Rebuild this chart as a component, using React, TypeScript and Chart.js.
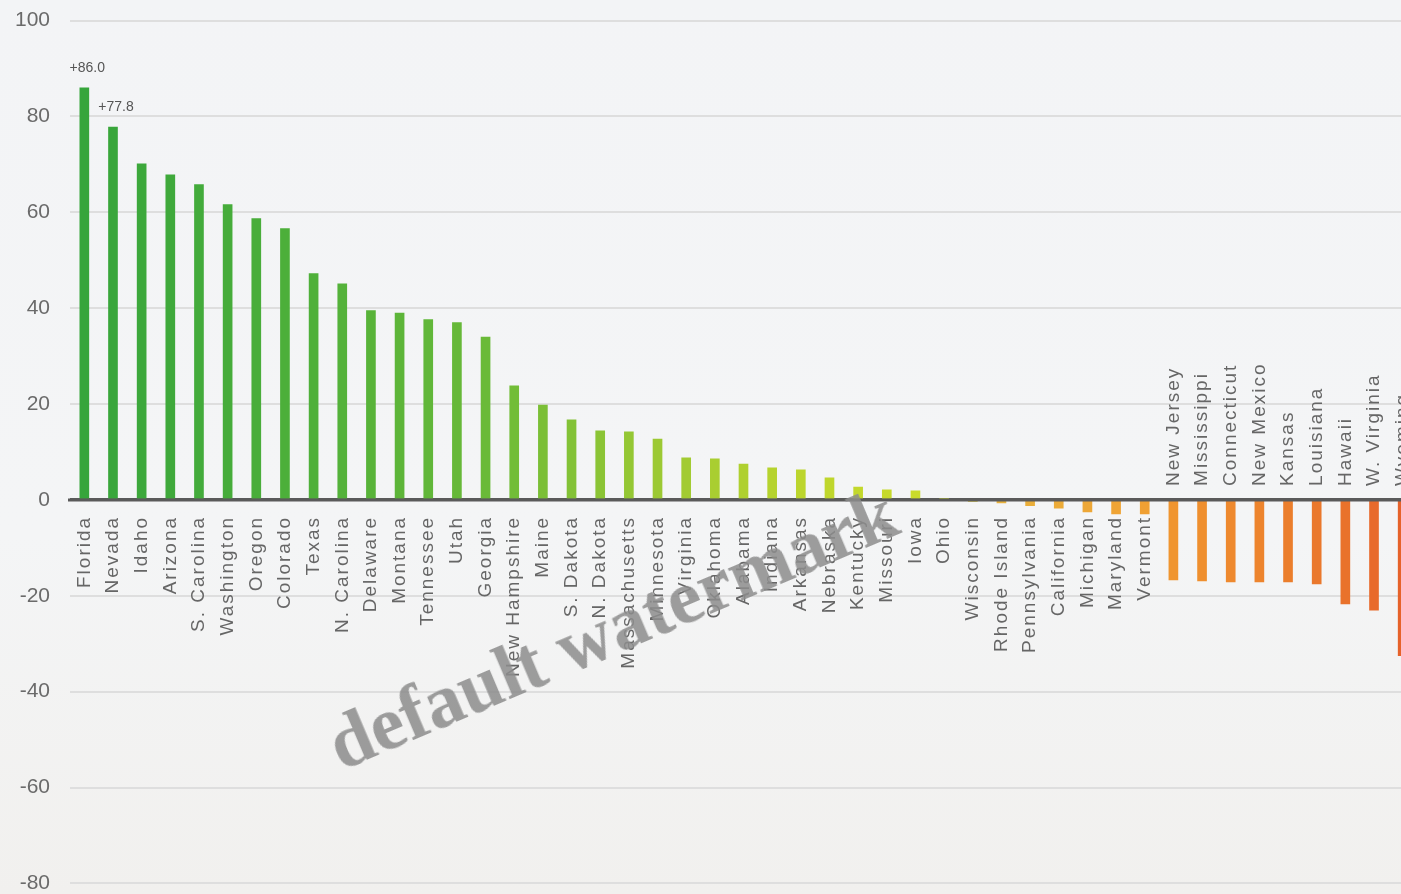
import { useEffect, useRef } from 'react';
import { Chart, registerables } from 'chart.js';

Chart.register(...registerables);

const categories = [
  'Florida', 'Nevada', 'Idaho', 'Arizona', 'S. Carolina', 'Washington', 'Oregon', 'Colorado',
  'Texas', 'N. Carolina', 'Delaware', 'Montana', 'Tennessee', 'Utah', 'Georgia', 'New Hampshire',
  'Maine', 'S. Dakota', 'N. Dakota', 'Massachusetts', 'Minnesota', 'Virginia', 'Oklahoma', 'Alabama',
  'Indiana', 'Arkansas', 'Nebraska', 'Kentucky', 'Missouri', 'Iowa', 'Ohio', 'Wisconsin',
  'Rhode Island', 'Pennsylvania', 'California', 'Michigan', 'Maryland', 'Vermont', 'New Jersey',
  'Mississippi', 'Connecticut', 'New Mexico', 'Kansas', 'Louisiana', 'Hawaii', 'W. Virginia', 'Wyoming',
];

const values = [
  86.0, 77.8, 70.1, 67.8, 65.8, 61.6, 58.7, 56.6,
  47.2, 45.1, 39.5, 39.0, 37.6, 37.0, 34.0, 23.8,
  19.8, 16.7, 14.4, 14.2, 12.7, 8.8, 8.6, 7.5,
  6.7, 6.3, 4.6, 2.7, 2.1, 1.9, 0.3, -0.3,
  -0.6, -1.2, -1.7, -2.5, -2.9, -2.9, -16.7,
  -16.9, -17.1, -17.1, -17.1, -17.5, -21.7, -23.0, -32.5,
];

const labeledBars = [0, 1];

const yMin = -80;
const yMax = 100;
const yStep = 20;

const colorStops: [number, string][] = [
  [0, '#36a53b'],
  [8, '#4fb03a'],
  [14, '#6aba38'],
  [20, '#9cc933'],
  [25, '#bcd52d'],
  [30, '#cddc2a'],
  [32, '#e9b23c'],
  [37, '#f0a033'],
  [38, '#f0952f'],
  [44, '#e9722b'],
  [46, '#e6622a'],
];

function hexToRgb(h: string) {
  const n = parseInt(h.slice(1), 16);
  return [(n >> 16) & 255, (n >> 8) & 255, n & 255];
}

function barColor(i: number) {
  for (let k = 0; k < colorStops.length - 1; k++) {
    const [a, ca] = colorStops[k];
    const [b, cb] = colorStops[k + 1];
    if (i >= a && i <= b) {
      const t = b === a ? 0 : (i - a) / (b - a);
      const A = hexToRgb(ca);
      const B = hexToRgb(cb);
      const c = A.map((v, j) => Math.round(v + (B[j] - v) * t));
      return `rgb(${c[0]},${c[1]},${c[2]})`;
    }
  }
  return colorStops[colorStops.length - 1][1];
}

const labelPlugin = {
  id: 'categoryLabels',
  afterDatasetsDraw(chart: any) {
    const { ctx, chartArea } = chart;
    const x = chart.scales.x;
    const y = chart.scales.y;
    const zero = y.getPixelForValue(0);
    ctx.save();
    ctx.strokeStyle = '#5a5a5a';
    ctx.lineWidth = 3;
    ctx.beginPath();
    ctx.moveTo(chartArea.left - 2, zero);
    ctx.lineTo(chartArea.right, zero);
    ctx.stroke();

    ctx.font = '19px "Liberation Sans", Arial, sans-serif';
    ctx.fillStyle = '#666666';
    ctx.letterSpacing = '2px';
    ctx.textBaseline = 'middle';
    categories.forEach((name, i) => {
      const px = x.getPixelForValue(i);
      const v = values[i];
      ctx.save();
      if (v < -8) {
        ctx.translate(px, zero - 14);
        ctx.rotate(-Math.PI / 2);
        ctx.textAlign = 'left';
      } else {
        ctx.translate(px, zero + 16);
        ctx.rotate(-Math.PI / 2);
        ctx.textAlign = 'right';
      }
      ctx.fillText(name, 0, 0);
      ctx.restore();
    });

    ctx.letterSpacing = '0px';
    ctx.font = '14px "Liberation Sans", Arial, sans-serif';
    ctx.fillStyle = '#555555';
    ctx.textAlign = 'center';
    labeledBars.forEach((i) => {
      const px = x.getPixelForValue(i);
      const py = y.getPixelForValue(values[i]);
      ctx.fillText(`+${values[i].toFixed(1)}`, px + 3, py - 20);
    });
    ctx.restore();
  },
};

export default function App() {
  const ref = useRef<HTMLCanvasElement>(null);

  useEffect(() => {
    if (!ref.current) return;
    const chart = new Chart(ref.current, {
      type: 'bar',
      data: {
        labels: categories,
        datasets: [
          {
            data: values,
            backgroundColor: values.map((_, i) => barColor(i)),
            barThickness: 9,
          },
        ],
      },
      options: {
        responsive: false,
        animation: false,
        layout: { padding: { top: 8, bottom: 12, left: 0, right: 3 } },
        plugins: { legend: { display: false }, tooltip: { enabled: false } },
        scales: {
          x: { display: false, offset: true },
          y: {
            min: yMin,
            max: yMax,
            afterFit: (s: any) => {
              s.width = 70;
            },
            ticks: {
              stepSize: yStep,
              padding: 20,
              color: '#6a6a6a',
              font: { size: 21, family: '"Liberation Sans", Arial, sans-serif' },
            },
            grid: {
              color: (c: any) => (c.tick && c.tick.value === 0 ? '#5a5a5a' : '#dedede'),
              lineWidth: (c: any) => (c.tick && c.tick.value === 0 ? 3 : 2),
              drawTicks: false,
            },
            border: { display: false },
          },
        },
      },
      plugins: [labelPlugin],
    });
    return () => chart.destroy();
  }, []);

  return (
    <div
      style={{
        position: 'fixed',
        left: 0,
        top: 0,
        width: 1401,
        height: 894,
        overflow: 'hidden',
        background: 'linear-gradient(#f3f4f6 0%, #f4f5f6 60%, #f1f0ee 100%)',
      }}
    >
      <canvas
        ref={ref}
        width={1420}
        height={928}
        style={{ display: 'block', marginTop: -12 }}
      />
      <div
        style={{
          position: 'absolute',
          left: 612,
          top: 628,
          transform: 'translate(-50%, -50%) rotate(-23deg)',
          fontFamily: '"Liberation Serif", "DejaVu Serif", serif',
          fontWeight: 'bold',
          fontSize: 76,
          color: 'rgba(140,140,140,0.85)',
          whiteSpace: 'nowrap',
          pointerEvents: 'none',
        }}
      >
        default watermark
      </div>
    </div>
  );
}
